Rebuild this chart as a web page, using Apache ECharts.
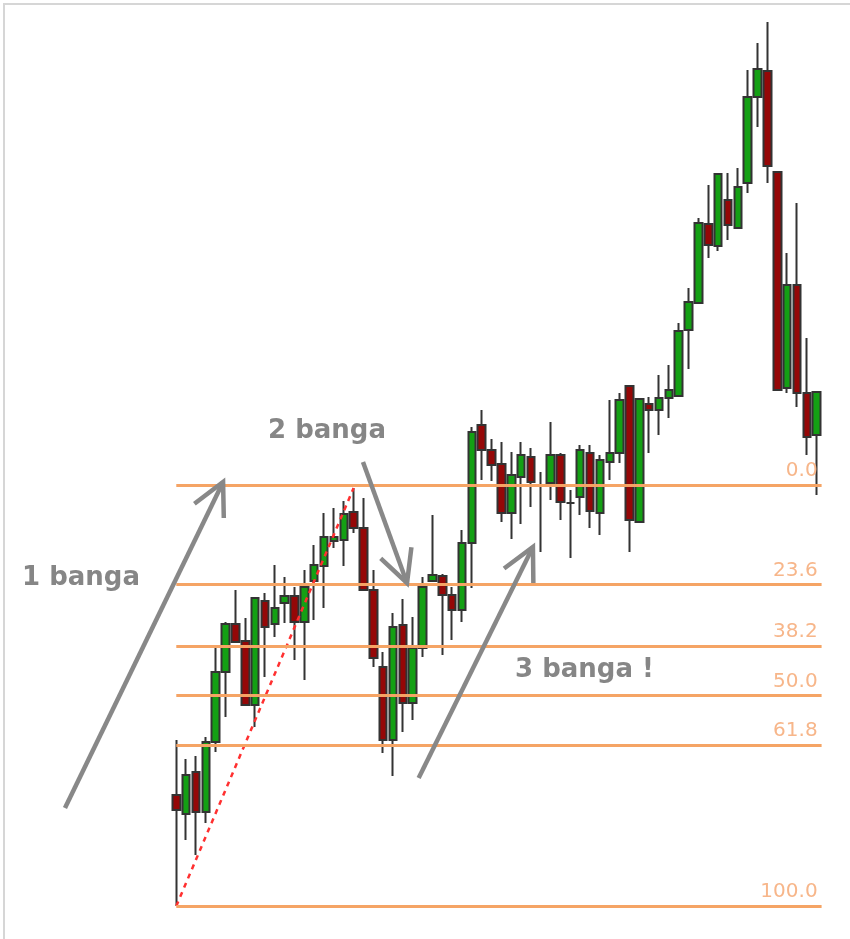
<!DOCTYPE html>
<html>
<head>
<meta charset="utf-8">
<title>Fibonacci - banga</title>
<script src="https://cdn.jsdelivr.net/npm/echarts@6/dist/echarts.min.js"></script>
<style>
  html, body { margin: 0; padding: 0; background: #fff; }
  #chart { width: 850px; height: 939px; }
</style>
</head>
<body>
<div id="chart"></div>
<script>
// candles (price units, higher = up)
const opens  = [144, 125, 167, 127, 197, 267, 315, 298, 234, 338, 315, 336, 343, 317, 358, 373, 398, 399, 427, 411,
                349, 272, 199, 314, 236, 291, 358, 363, 344, 329, 396, 514, 489, 475, 426, 462, 482, 454, 456, 484,
                436, 442, 486, 426, 477, 486, 553, 417, 535, 529, 541, 543, 609, 636, 715, 693, 739, 711, 756, 842,
                868, 767, 551, 654, 546, 504];
const closes = [129, 164, 127, 197, 267, 315, 297, 234, 341, 312, 331, 343, 317, 352, 374, 402, 402, 425, 411, 349,
                281, 199, 312, 236, 291, 352, 364, 344, 329, 396, 507, 489, 474, 426, 464, 484, 457, 454, 484, 437,
                436, 489, 428, 479, 486, 539, 419, 540, 529, 541, 549, 608, 637, 716, 694, 765, 714, 752, 842, 870,
                773, 549, 654, 546, 502, 547];
const lows   = [33, 99, 84, 116, 187, 222, 296, 233, 212, 262, 302, 316, 279, 259, 319, 331, 391, 373, 406, 348,
                272, 186, 163, 207, 219, 282, 357, 284, 299, 317, 351, 459, 458, 417, 400, 415, 432, 387, 439, 419,
                381, 424, 411, 404, 459, 476, 387, 416, 486, 504, 521, 542, 570, 635, 681, 688, 699, 710, 746, 812,
                756, 548, 546, 532, 484, 444];
const highs  = [199, 180, 183, 202, 291, 317, 349, 321, 342, 346, 374, 362, 352, 369, 394, 426, 431, 438, 451, 441,
                369, 287, 326, 340, 322, 362, 424, 365, 352, 409, 512, 529, 500, 497, 487, 497, 491, 467, 517, 486,
                449, 494, 494, 484, 539, 546, 554, 541, 542, 564, 574, 616, 651, 721, 754, 766, 766, 771, 869, 896,
                917, 768, 686, 736, 601, 548];
const categories = opens.map((_, i) => String(i + 1));

// fibonacci retracement, swing low to swing high
const fibLow = 33;
const fibHigh = 454;
const fibLevels = [0, 23.6, 38.2, 50, 61.8, 100];

// red dashed trend line: from low of candle 0 to high of candle 18
const trendFrom = 0;
const trendTo = 18;

// arrows in chart units: [fromIndex, fromPrice, toIndex, toPrice]
const arrows = [
  [-11.3, 131, 4.75, 457],
  [18.95, 477, 23.42, 356],
  [24.6, 161, 36.2, 392]
];

const notes = [
  { text: '1 banga', x: 22, y: 578 },
  { text: '2 banga', x: 268, y: 431 },
  { text: '3 banga !', x: 515, y: 670 }
];

const chart = echarts.init(document.getElementById('chart'));

const fibPrice = (p) => fibHigh - p / 100 * (fibHigh - fibLow);

chart.setOption({
  animation: false,
  backgroundColor: '#fff',
  grid: { left: 171.37, right: 28.4, top: 0, bottom: 0 },
  xAxis: [
    { type: 'category', data: categories, show: false, boundaryGap: true },
    { type: 'value', min: -0.5, max: 65.5, show: false }
  ],
  yAxis: { type: 'value', min: 0, max: 939, show: false },
  series: [
    {
      type: 'candlestick',
      barWidth: 8,
      data: opens.map((o, i) => [o, closes[i], lows[i], highs[i]]),
      itemStyle: {
        color: '#14a014',
        color0: '#950707',
        borderColor: '#333',
        borderColor0: '#333',
        borderWidth: 2
      },
      z: 2
    },
    {
      type: 'line',
      xAxisIndex: 1,
      symbol: 'none',
      silent: true,
      z: 4,
      data: [[trendFrom, lows[trendFrom]], [trendTo, highs[trendTo]]],
      lineStyle: { color: '#ff3030', width: 2.5, type: [5, 5] },
      markLine: {
        silent: true,
        symbol: ['none', 'none'],
        lineStyle: { color: '#f5a465', width: 3, type: 'solid' },
        label: {
          position: 'insideEndTop',
          formatter: (p) => p.name,
          color: '#f7b68a',
          fontFamily: 'DejaVu Sans',
          fontSize: 20,
          distance: 4
        },
        emphasis: { disabled: true },
        data: fibLevels.map((p) => [
          { name: p.toFixed(1), coord: [0, fibPrice(p)] },
          { coord: [65.5, fibPrice(p)] }
        ])
      }
    }
  ]
});

// arrows and notes on top, placed through the axes
function drawNotes() {
  const toPx = (i, v) => [
    chart.convertToPixel({ xAxisIndex: 1 }, i),
    chart.convertToPixel({ yAxisIndex: 0 }, v)
  ];
  const els = [{
    type: 'rect',
    shape: { x: 4, y: 4, width: 1000, height: 1000 },
    style: { fill: 'none', stroke: '#d6d6d6', lineWidth: 2 },
    silent: true
  }];
  arrows.forEach(([i0, v0, i1, v1]) => {
    const a = toPx(i0, v0);
    const b = toPx(i1, v1);
    const len = Math.hypot(a[0] - b[0], a[1] - b[1]);
    const ux = (a[0] - b[0]) / len;
    const uy = (a[1] - b[1]) / len;
    const ang = 27 * Math.PI / 180;
    const head = 36;
    const arm = (s) => [
      b[0] + head * (ux * Math.cos(s * ang) - uy * Math.sin(s * ang)),
      b[1] + head * (ux * Math.sin(s * ang) + uy * Math.cos(s * ang))
    ];
    const style = { stroke: '#888', lineWidth: 4.5, fill: null, lineJoin: 'miter' };
    els.push({ type: 'line', shape: { x1: a[0], y1: a[1], x2: b[0], y2: b[1] }, style, z: 10, silent: true });
    els.push({ type: 'polyline', shape: { points: [arm(1), b, arm(-1)] }, style, z: 10, silent: true });
  });
  notes.forEach((n) => {
    els.push({
      type: 'text', x: n.x, y: n.y, z: 10, silent: true,
      style: { text: n.text, font: 'bold 26px "DejaVu Sans"', fill: '#868686', verticalAlign: 'middle' }
    });
  });
  chart.setOption({ graphic: els });
}
drawNotes();
</script>
</body>
</html>
